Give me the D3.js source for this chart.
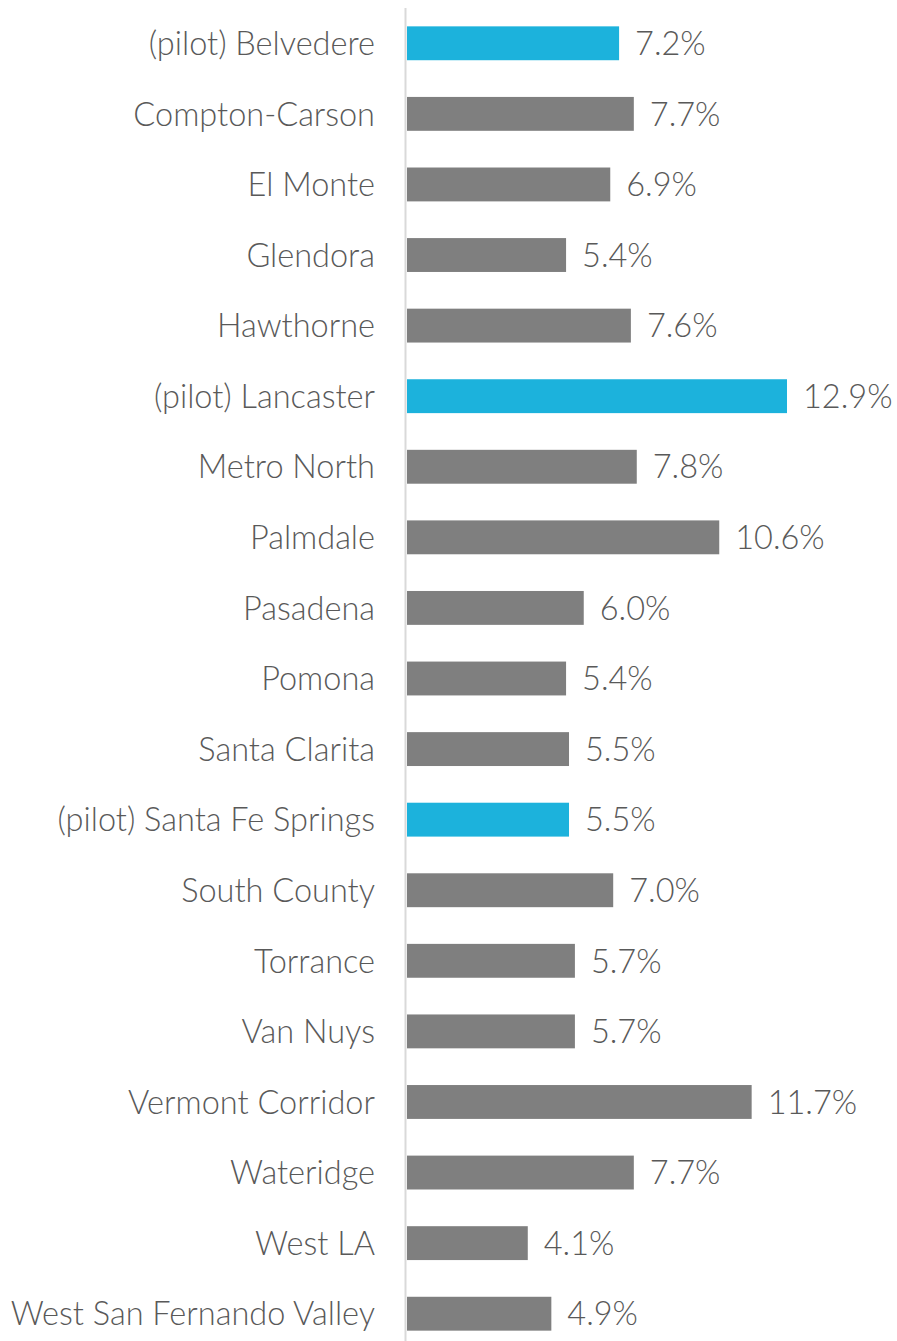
<!DOCTYPE html>
<html>
<head>
<meta charset="utf-8">
<script src="https://cdn.jsdelivr.net/npm/d3@7"></script>
<style>
  html, body { margin: 0; padding: 0; background: #ffffff; }
  svg { display: block; }
</style>
</head>
<body>
<svg id="chart" width="897" height="1341"></svg>
<script>
const categories = [
  "(pilot) Belvedere", "Compton-Carson", "El Monte", "Glendora", "Hawthorne",
  "(pilot) Lancaster", "Metro North", "Palmdale", "Pasadena", "Pomona",
  "Santa Clarita", "(pilot) Santa Fe Springs", "South County", "Torrance",
  "Van Nuys", "Vermont Corridor", "Wateridge", "West LA", "West San Fernando Valley"
];
const values = [7.2, 7.7, 6.9, 5.4, 7.6, 12.9, 7.8, 10.6, 6.0, 5.4, 5.5, 5.5, 7.0, 5.7, 5.7, 11.7, 7.7, 4.1, 4.9];
const pilot = [true, false, false, false, false, true, false, false, false, false, false, true, false, false, false, false, false, false, false];

const svg = d3.select("#chart");
const x0 = 407;
const x = d3.scaleLinear().domain([0, 12.9]).range([x0, 787]);
const y = d3.scaleBand().domain(categories).range([8, 1349]).paddingInner(0.52).paddingOuter(0.26);

const font = "Lato, 'Open Sans', sans-serif";

// bars
svg.selectAll("rect.bar").data(categories).join("rect")
  .attr("class", "bar")
  .attr("x", x(0))
  .attr("y", d => y(d))
  .attr("width", (d, i) => x(values[i]) - x(0))
  .attr("height", y.bandwidth())
  .attr("fill", (d, i) => pilot[i] ? "#1cb2dc" : "#7f7f7f");

// axis line
svg.append("line")
  .attr("x1", 405.5).attr("x2", 405.5)
  .attr("y1", 8).attr("y2", 1341)
  .attr("stroke", "#d9d9d9").attr("stroke-width", 2);

// category labels
svg.selectAll("text.cat").data(categories).join("text")
  .attr("class", "cat")
  .attr("x", 375)
  .attr("y", d => y(d) + y.bandwidth() / 2)
  .attr("dy", "0.36em")
  .attr("text-anchor", "end")
  .attr("font-family", font)
  .attr("font-weight", 300)
  .attr("font-size", 32.5)
  .attr("fill", "#595959")
  .text(d => d);

// value labels
svg.selectAll("text.val").data(categories).join("text")
  .attr("class", "val")
  .attr("x", (d, i) => x(values[i]) + 16)
  .attr("y", d => y(d) + y.bandwidth() / 2)
  .attr("dy", "0.36em")
  .attr("font-family", font)
  .attr("font-weight", 300)
  .attr("font-size", 32.5)
  .attr("fill", "#595959")
  .text((d, i) => values[i].toFixed(1) + "%");
</script>
</body>
</html>
